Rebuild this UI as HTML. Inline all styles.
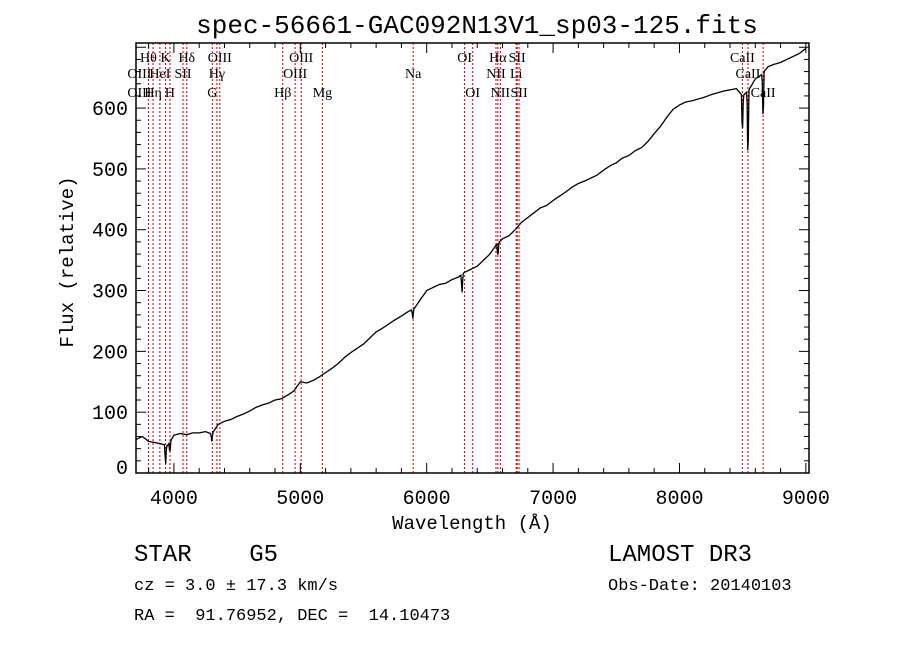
<!DOCTYPE html>
<html><head><meta charset="utf-8"><style>
html,body{margin:0;padding:0;background:#fff;}
svg{display:block;}
text{white-space:pre;}
.t{font-family:"Liberation Mono",monospace;fill:#000;}
.s{font-family:"Liberation Serif",serif;fill:#000;font-size:14px;}
</style></head><body>
<svg id="c" width="900" height="649" viewBox="0 0 900 649" xml:space="preserve">
<text class="t" x="477" y="33" font-size="26" text-anchor="middle">spec-56661-GAC092N13V1_sp03-125.fits</text>
<text class="t" x="472" y="529" font-size="19" text-anchor="middle">Wavelength (Å)</text>
<text class="t" x="0" y="0" font-size="19" text-anchor="middle" transform="translate(73,262) rotate(-90)">Flux (relative)</text>
<text class="t" x="134" y="561" font-size="24">STAR    G5</text>
<text class="t" x="608" y="561" font-size="24">LAMOST DR3</text>
<text class="t" x="134" y="590" font-size="17">cz = 3.0 ± 17.3 km/s</text>
<text class="t" x="608" y="590" font-size="17">Obs-Date: 20140103</text>
<text class="t" x="134" y="620" font-size="17">RA =  91.76952, DEC =  14.10473</text>
<g id="plot"></g>
</svg>
<script>
const waves=[3700,3750,3800,3850,3900,3950,4000,4050,4100,4150,4200,4250,4300,4350,4400,4450,4500,4550,4600,4650,4700,4750,4800,4850,4900,4950,5000,5050,5100,5150,5200,5250,5300,5350,5400,5450,5500,5550,5600,5650,5700,5750,5800,5850,5900,5950,6000,6050,6100,6150,6200,6250,6300,6350,6400,6450,6500,6550,6600,6650,6700,6750,6800,6850,6900,6950,7000,7050,7100,7150,7200,7250,7300,7350,7400,7450,7500,7550,7600,7650,7700,7750,7800,7850,7900,7950,8000,8050,8100,8150,8200,8250,8300,8350,8400,8450,8500,8550,8600,8650,8700,8750,8800,8850,8900,8950,9000];
const flux=[55,60,52,50,48,45,62,65,63,66,66,68,64,80,85,88,93,97,102,108,112,115,120,122,128,135,150,148,152,158,165,172,180,190,198,205,212,222,232,238,245,252,258,265,270,285,300,305,310,312,318,322,330,335,340,350,360,375,385,390,400,412,420,428,436,440,448,455,462,470,476,480,485,490,498,505,510,518,522,530,535,545,558,570,585,598,605,610,612,615,618,622,625,628,630,632,620,630,648,655,668,672,675,680,685,690,698];
const dipWaves=[3934,3968,4300,5890,6280,6563,8498,8542,8662];
const dipDepth=[35,20,12,15,30,25,70,130,90];
const lineWaves=[3798,3835,3889,3934,3969,4072,4102,4304,4340,4363,4861,4959,5007,5175,5893,6300,6364,6548,6563,6583,6708,6716,6731,8498,8542,8662];
const lineLabels=[["Hθ",3798,1],["OIII",3727,2],["OIII",3727,3],["Hη",3835,3],["HeI",3889,2],["K",3934,1],["H",3969,3],["SII",4072,2],["Hδ",4102,1],["OIII",4363,1],["Hγ",4340,2],["G",4304,3],["Hβ",4861,3],["OIII",5007,1],["OIII",4959,2],["Mg",5175,3],["Na",5893,2],["OI",6300,1],["OI",6364,3],["Hα",6563,1],["NII",6548,2],["NII",6583,3],["SII",6716,1],["Li",6708,2],["SII",6731,3],["CaII",8498,1],["CaII",8542,2],["CaII",8662,3]];
const xTicks=[4000,5000,6000,7000,8000,9000];
const yTicks=[0,100,200,300,400,500,600];
const X0=136,X1=809,Y0=43,Y1=473,WMIN=3700,WMAX=9025,FMIN=0,FMAX=707;
const xs=w=>X0+(w-WMIN)/(WMAX-WMIN)*(X1-X0);
const ys=f=>Y1-(f-FMIN)/(FMAX-FMIN)*(Y1-Y0);
const NS="http://www.w3.org/2000/svg";
const g=document.getElementById('plot');
function mk(tag,attrs){const e=document.createElementNS(NS,tag);for(const k in attrs)e.setAttribute(k,attrs[k]);g.appendChild(e);return e;}
lineWaves.forEach(w=>{
 const l=mk('line',{x1:xs(w),x2:xs(w),y1:Y0,y2:Y1,stroke:'#c00000','stroke-width':1,'stroke-dasharray':'2,2'});
 
 
});
const rowY=[0,62,78,97];
lineLabels.forEach(a=>{
 const t=mk('text',{x:xs(a[1]),y:rowY[a[2]],class:'s','text-anchor':'middle'});
 t.textContent=a[0];
 
 
});
let pts=[];
for(let w=WMIN;w<=9000;w+=5){
 let i=0;while(i<waves.length-2&&waves[i+1]<w)i++;
 const t=(w-waves[i])/(waves[i+1]-waves[i]);
 let f=flux[i]+(flux[i+1]-flux[i])*t;
 dipWaves.forEach((d,k)=>{const dd=Math.abs(w-d);if(dd<8)f-=dipDepth[k]*(1-dd/8);});
 pts.push(xs(w).toFixed(1)+','+ys(f).toFixed(1));
}
const p=mk('polyline',{points:pts.join(' '),fill:'none',stroke:'#000','stroke-width':1.3});


const b=mk('rect',{x:X0,y:Y0,width:X1-X0,height:Y1-Y0,fill:'none',stroke:'#000','stroke-width':1.5});


for(let w=3800;w<=9000;w+=200){
 const major=w%1000===0,len=major?10:5;
 mk('line',{x1:xs(w),x2:xs(w),y1:Y1,y2:Y1-len,stroke:'#000'});
 mk('line',{x1:xs(w),x2:xs(w),y1:Y0,y2:Y0+len,stroke:'#000'});
}
xTicks.forEach(w=>{
 const t=mk('text',{x:xs(w),y:504,class:'t','font-size':20,'text-anchor':'middle'});
 t.textContent=w;
 
 
});
for(let f=0;f<=700;f+=20){
 const major=f%100===0,len=major?10:5;
 mk('line',{x1:X0,x2:X0+len,y1:ys(f),y2:ys(f),stroke:'#000'});
 mk('line',{x1:X1,x2:X1-len,y1:ys(f),y2:ys(f),stroke:'#000'});
}
yTicks.forEach(f=>{
 const t=mk('text',{x:128,y:Math.min(ys(f)+7,474),class:'t','font-size':20,'text-anchor':'end'});
 t.textContent=f;
 
 
});
</script>
</body></html>
